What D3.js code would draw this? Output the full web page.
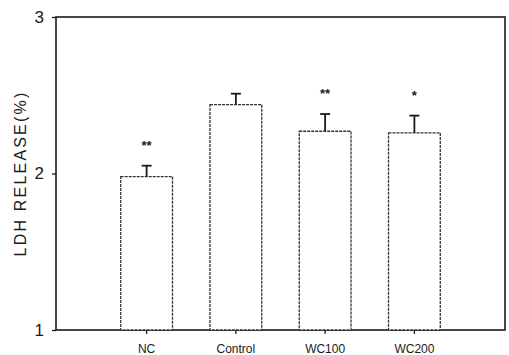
<!DOCTYPE html>
<html>
<head>
<meta charset="utf-8">
<script src="https://cdn.jsdelivr.net/npm/d3@7"></script>
<style>
  html, body { margin: 0; padding: 0; background: #fff; }
  svg { display: block; font-family: "Liberation Sans", Arial, sans-serif; }
</style>
</head>
<body>
<svg id="chart" width="509" height="355"></svg>
<script>
// LDH release per group
const groups = ["NC", "Control", "WC100", "WC200"];
const means = [1.98, 2.44, 2.27, 2.26];
const errors = [0.07, 0.07, 0.11, 0.11];
const marks = ["**", "", "**", "*"];
const yTicks = [1, 2, 3];

const svg = d3.select("#chart");
const m = { left: 56, right: 4, top: 17, bottom: 25 };
const W = 509, H = 355;
const x0 = m.left, x1 = W - m.right, y0 = H - m.bottom, y1 = m.top;

const x = d3.scaleBand().domain(groups).range([x0, x1])
  .paddingInner(0.42).paddingOuter(0.725);
const y = d3.scaleLinear().domain([1, 3]).range([y0, y1]);

const ink = "#1a1a1a";

// Frame
svg.append("rect").attr("x", x0).attr("y", y1)
  .attr("width", x1 - x0).attr("height", y0 - y1)
  .attr("fill", "none").attr("stroke", ink).attr("stroke-width", 1.6);

// Bars
svg.selectAll("rect.bar").data(groups).join("rect").attr("class", "bar")
  .attr("x", d => x(d)).attr("width", x.bandwidth())
  .attr("y", (d, i) => y(means[i])).attr("height", (d, i) => y(1) - y(means[i]))
  .attr("fill", "#fff").attr("stroke", "#333").attr("stroke-width", 1.3)
  .attr("stroke-dasharray", "3,1");

// Error bars (upper only)
const cx = d => x(d) + x.bandwidth() / 2;
svg.selectAll("line.err").data(groups).join("line").attr("class", "err")
  .attr("x1", cx).attr("x2", cx)
  .attr("y1", (d, i) => y(means[i])).attr("y2", (d, i) => y(means[i] + errors[i]))
  .attr("stroke", ink).attr("stroke-width", 1.8);
svg.selectAll("line.cap").data(groups).join("line").attr("class", "cap")
  .attr("x1", d => cx(d) - 5).attr("x2", d => cx(d) + 5)
  .attr("y1", (d, i) => y(means[i] + errors[i])).attr("y2", (d, i) => y(means[i] + errors[i]))
  .attr("stroke", ink).attr("stroke-width", 1.8);

// Significance marks
svg.selectAll("text.sig").data(groups).join("text").attr("class", "sig")
  .attr("x", cx).attr("y", (d, i) => y(means[i] + errors[i]) - 16)
  .attr("text-anchor", "middle").attr("font-size", 13).attr("font-weight", "bold")
  .attr("fill", ink).text((d, i) => marks[i]);

// Axes
const yAxis = d3.axisLeft(y).tickValues(yTicks).tickFormat(d3.format("d"))
  .tickSize(4).tickPadding(8);
const gy = svg.append("g").attr("transform", `translate(${x0},0)`).call(yAxis);
gy.select(".domain").remove();
gy.selectAll("line").attr("stroke", ink).attr("stroke-width", 1.3);
gy.selectAll("text").attr("font-size", 17).attr("fill", ink);

const xAxis = d3.axisBottom(x).tickSize(4).tickPadding(10);
const gx = svg.append("g").attr("transform", `translate(0,${y0})`).call(xAxis);
gx.select(".domain").remove();
gx.selectAll("line").attr("stroke", ink).attr("stroke-width", 1.3);
gx.selectAll("text").attr("font-size", 12).attr("fill", ink);

// Y axis title
svg.append("text")
  .attr("transform", `translate(26,${(y0 + y1) / 2}) rotate(-90)`)
  .attr("text-anchor", "middle").attr("font-size", 16).attr("fill", ink)
  .attr("letter-spacing", 2.2)
  .text("LDH RELEASE(%)");
</script>
</body>
</html>
